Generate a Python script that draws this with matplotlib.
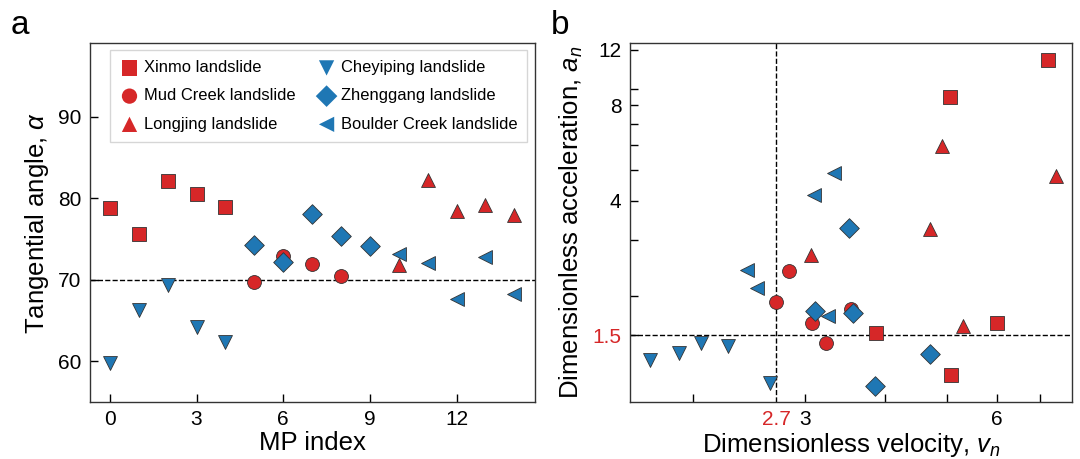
import matplotlib
matplotlib.use("Agg")
import matplotlib.pyplot as plt
from matplotlib.ticker import FixedLocator, NullFormatter

plt.rcParams['font.family'] = ['Liberation Sans', 'DejaVu Sans']
plt.rcParams['mathtext.fontset'] = 'custom'
plt.rcParams['mathtext.rm'] = 'Liberation Sans'
plt.rcParams['mathtext.it'] = 'Liberation Sans:italic'

RED = '#d62728'
BLUE = '#1f77b4'

names = ['Xinmo landslide', 'Mud Creek landslide', 'Longjing landslide',
         'Cheyiping landslide', 'Zhenggang landslide', 'Boulder Creek landslide']
markers = ['s', 'o', '^', 'v', 'D', '<']
colors = [RED, RED, RED, BLUE, BLUE, BLUE]

# Panel a: MP index vs tangential angle
xinmo_idx = [0, 1, 2, 3, 4]
xinmo_alpha = [78.8, 75.6, 82.1, 80.5, 78.9]
mud_idx = [5, 6, 7, 8]
mud_alpha = [69.7, 72.9, 71.9, 70.5]
long_idx = [10, 11, 12, 13, 14]
long_alpha = [71.8, 82.2, 78.4, 79.2, 77.9]
chey_idx = [0, 1, 2, 3, 4]
chey_alpha = [59.8, 66.3, 69.4, 64.2, 62.4]
zheng_idx = [5, 6, 7, 8, 9]
zheng_alpha = [74.3, 72.2, 78.0, 75.4, 74.1]
boul_idx = [10, 11, 12, 13, 14]
boul_alpha = [73.1, 72.0, 67.6, 72.8, 68.2]

# Panel b: dimensionless velocity vs acceleration
xinmo_v = [7.22, 5.06, 3.88, 5.08, 6.01]
xinmo_a = [11.16, 8.54, 1.52, 1.12, 1.64]
mud_v = [2.83, 2.70, 3.07, 3.23, 3.54]
mud_a = [2.39, 1.91, 1.64, 1.42, 1.81]
long_v = [4.91, 7.43, 3.06, 4.71, 5.31]
long_a = [5.94, 4.78, 2.69, 3.25, 1.60]
chey_v = [1.71, 1.90, 2.06, 2.27, 2.64]
chey_a = [1.25, 1.32, 1.42, 1.39, 1.06]
zheng_v = [3.51, 3.11, 3.56, 3.86, 4.71]
zheng_a = [3.27, 1.79, 1.76, 1.04, 1.31]
boul_v = [3.33, 3.10, 2.43, 2.52, 3.26]
boul_a = [4.90, 4.16, 2.41, 2.11, 1.72]

alpha_thr = 70
v_thr = 2.7
a_thr = 1.5

fig = plt.figure(figsize=(10.8, 4.59), dpi=100)
ax1 = fig.add_axes([0.083, 0.124, 0.412, 0.782])
ax2 = fig.add_axes([0.583, 0.124, 0.410, 0.782])

S = 100
EC = '#333333'
LW = 0.6

left_x = [xinmo_idx, mud_idx, long_idx, chey_idx, zheng_idx, boul_idx]
left_y = [xinmo_alpha, mud_alpha, long_alpha, chey_alpha, zheng_alpha, boul_alpha]
for xs, ys, m, c, n in zip(left_x, left_y, markers, colors, names):
    ax1.scatter(xs, ys, marker=m, s=S, c=c, edgecolors=EC, linewidths=LW, label=n, zorder=3)
ax1.axhline(alpha_thr, color='black', ls='--', lw=1.0, zorder=2)
ax1.set_xlim(-0.7, 14.7)
ax1.set_ylim(55, 99)
ax1.set_xticks([0, 3, 6, 9, 12])
ax1.set_yticks([60, 70, 80, 90])
ax1.tick_params(direction='in', length=6, width=1, labelsize=15, pad=6)
ax1.set_xlabel('MP index', fontsize=18.5, labelpad=1)
ax1.set_ylabel(r'Tangential angle, $\alpha$', fontsize=18.5, labelpad=5)
leg = ax1.legend(ncol=2, loc='upper left', bbox_to_anchor=(0.045, 0.98), borderaxespad=0,
                 fontsize=11.9,
                 frameon=True, fancybox=False, edgecolor='#cccccc', handletextpad=0.25,
                 columnspacing=1.3, borderpad=0.6, labelspacing=0.8, handlelength=1.2,
                 markerscale=1.1)
leg.get_frame().set_linewidth(1.0)
for h in leg.legend_handles:
    h.set_edgecolor('none')

right_x = [xinmo_v, mud_v, long_v, chey_v, zheng_v, boul_v]
right_y = [xinmo_a, mud_a, long_a, chey_a, zheng_a, boul_a]
for xs, ys, m, c, n in zip(right_x, right_y, markers, colors, names):
    ax2.scatter(xs, ys, marker=m, s=S, c=c, edgecolors=EC, linewidths=LW, zorder=3)
ax2.axhline(a_thr, color='black', ls='--', lw=1.0, zorder=2)
ax2.axvline(v_thr, color='black', ls='--', lw=1.0, zorder=2)
ax2.set_xscale('log')
ax2.set_yscale('log')
ax2.set_xlim(1.59, 7.88)
ax2.set_ylim(0.922, 12.6)
ax2.xaxis.set_major_locator(FixedLocator([2.7, 3, 6]))
ax2.set_xticklabels(['2.7', '3', '6'])
ax2.xaxis.set_minor_locator(FixedLocator([2, 4, 5, 7]))
ax2.xaxis.set_minor_formatter(NullFormatter())
ax2.yaxis.set_major_locator(FixedLocator([1.5, 4, 8, 12]))
ax2.set_yticklabels(['1.5', '4', '8', '12'])
ax2.yaxis.set_minor_locator(FixedLocator([2, 3, 5, 6, 7, 9]))
ax2.yaxis.set_minor_formatter(NullFormatter())
ax2.tick_params(which='both', direction='in', length=6, width=1, labelsize=15, pad=6)
ax2.get_xticklabels()[0].set_color(RED)
ax2.get_yticklabels()[0].set_color(RED)
ax2.xaxis.get_major_ticks()[0].tick1line.set_visible(False)
ax2.set_xlabel(r'Dimensionless velocity, $v_n$', fontsize=18.5, labelpad=1)
ax2.set_ylabel(r'Dimensionless acceleration, $a_n$', fontsize=18.5, labelpad=5)

for ax in (ax1, ax2):
    for sp in ax.spines.values():
        sp.set_linewidth(1.0)
        sp.set_color('#333333')

fig.text(0.010, 0.925, 'a', fontsize=24)
fig.text(0.510, 0.925, 'b', fontsize=24)

fig.savefig('out.png', dpi=100)
